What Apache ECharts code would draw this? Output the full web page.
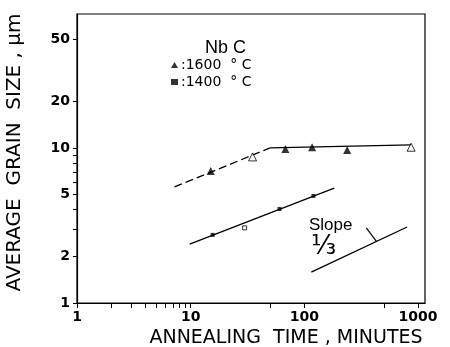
<!DOCTYPE html>
<html>
<head>
<meta charset="utf-8">
<script src="https://cdn.jsdelivr.net/npm/echarts@6/dist/echarts.min.js"></script>
<style>html,body{margin:0;padding:0;background:#fff}#c{width:450px;height:347px}</style>
</head>
<body>
<div id="c"></div>
<script>
// ---- data ----
const xTickLabels = [1, 10, 100, 1000];
const xTickMarks = [1, 2, 3, 4, 5, 6, 7, 8, 9, 10, 50, 100, 500, 1000];
const yTickLabels = [1, 2, 5, 10, 20, 50];
const yTickMarks = [1, 2, 3, 4, 5, 6, 7, 8, 9, 10, 20, 50];

const time1600 = [15, 35, 68, 117, 238, 868];
const size1600 = [7.1, 8.75, 9.85, 10.1, 9.7, 10.1];
const open1600 = [false, true, false, false, false, true];

const time1400 = [15.6, 29.8, 60.4, 120];
const size1400 = [2.75, 3.05, 4.04, 4.9];
const open1400 = [false, true, false, false];

const fitDashed1600 = [[7.2, 5.6], [50, 10]];
const fitSolid1600 = [[50, 10], [870, 10.45]];
const fit1400 = [[9.8, 2.4], [183, 5.5]];
const slopeLine = [[115, 1.58], [800, 3.09]];
const slopeLeader = [[350, 3.05], [430, 2.5]];

// ---- chart ----
const chart = echarts.init(document.getElementById('c'));
const font = 'Liberation Sans, Arial, sans-serif';
const lineStyle = { color: '#000', width: 1.3 };
function pts(xs, ys, open) {
  return xs.map((x, i) => ({
    value: [x, ys[i]],
    itemStyle: open[i] ? { color: '#fff', borderColor: '#000', borderWidth: 1 } : undefined
  }));
}
chart.setOption({
  animation: false,
  backgroundColor: '#fff',
  textStyle: { fontFamily: font, color: '#000' },
  grid: { left: 77, right: 25, top: 14, bottom: 44, outerBoundsMode: 'none', containLabel: false, show: true, borderColor: '#000', borderWidth: 1.2, backgroundColor: 'transparent' },
  title: {
    text: 'Nb C', left: 200, top: 34,
    textStyle: { fontFamily: font, fontSize: 18, fontWeight: 'normal', color: '#000' }
  },
  legend: {
    orient: 'vertical', left: 166, top: 53, itemGap: 3, itemWidth: 7, itemHeight: 6,
    formatter: n => ':' + n,
    textStyle: { fontFamily: 'DejaVu Sans', fontSize: 14, color: '#000', padding: [0, 0, 0, -2] },
    data: [
      { name: '1600  ° C', icon: 'triangle' },
      { name: '1400  ° C', icon: 'rect' }
    ]
  },
  xAxis: {
    type: 'log', logBase: 10, min: 1, max: 1150,
    name: 'ANNEALING  TIME , MINUTES', nameLocation: 'middle', nameGap: 21,
    nameTextStyle: { fontFamily: 'DejaVu Sans', fontSize: 19, color: '#000', padding: [0, 0, 0, 70] },
    axisLine: { lineStyle: { color: '#000', width: 1.2 } },
    axisTick: { inside: false, length: 5, customValues: xTickMarks, lineStyle: { color: '#000', width: 1 } },
    axisLabel: { customValues: xTickLabels, margin: 7, fontFamily: 'DejaVu Sans', fontWeight: 'bold', fontSize: 14, color: '#000', showMaxLabel: true, formatter: v => String(Math.round(v)) },
    splitLine: { show: false }, minorTick: { show: false }
  },
  yAxis: {
    type: 'log', logBase: 10, min: 1, max: 73,
    name: 'AVERAGE  GRAIN  SIZE , μm', nameLocation: 'middle', nameGap: 52, nameRotate: 90,
    nameTextStyle: { fontFamily: 'DejaVu Sans', fontSize: 20, color: '#000', padding: [0, 0, 0, 12] },
    axisLine: { lineStyle: { color: '#000', width: 1.2 } },
    axisTick: { inside: false, length: 4, customValues: yTickMarks, lineStyle: { color: '#000', width: 1 } },
    axisLabel: { customValues: yTickLabels, margin: 7, fontFamily: 'DejaVu Sans', fontWeight: 'bold', fontSize: 14, color: '#000', formatter: v => String(Math.round(v)) },
    splitLine: { show: false }, minorTick: { show: false }
  },
  series: [
    { type: 'line', data: fitDashed1600, symbol: 'none', lineStyle: Object.assign({ type: [8, 4] }, lineStyle), silent: true },
    { type: 'line', data: fitSolid1600, symbol: 'none', lineStyle: lineStyle, silent: true },
    { type: 'line', data: fit1400, symbol: 'none', lineStyle: lineStyle, silent: true },
    { type: 'line', data: slopeLine, symbol: 'none', lineStyle: lineStyle, silent: true },
    { type: 'line', data: slopeLeader, symbol: 'none', lineStyle: { color: '#000', width: 1.2 }, silent: true },
    { name: '1600  ° C', type: 'scatter', symbol: 'triangle', symbolSize: 8, itemStyle: { color: '#000' }, data: pts(time1600, size1600, open1600), z: 5 },
    { name: '1400  ° C', type: 'scatter', symbol: 'rect', symbolSize: 4, itemStyle: { color: '#000' }, data: pts(time1400, size1400, open1400), z: 5 }
  ],
  graphic: [
    { type: 'text', left: 309, top: 217, style: { text: 'Slope', fontFamily: font, fontSize: 17, fill: '#000' } },
    { type: 'text', left: 311, top: 234, style: { text: '⅓', fontFamily: 'DejaVu Sans', fontSize: 26, fill: '#000' } }
  ]
});
</script>
</body>
</html>
